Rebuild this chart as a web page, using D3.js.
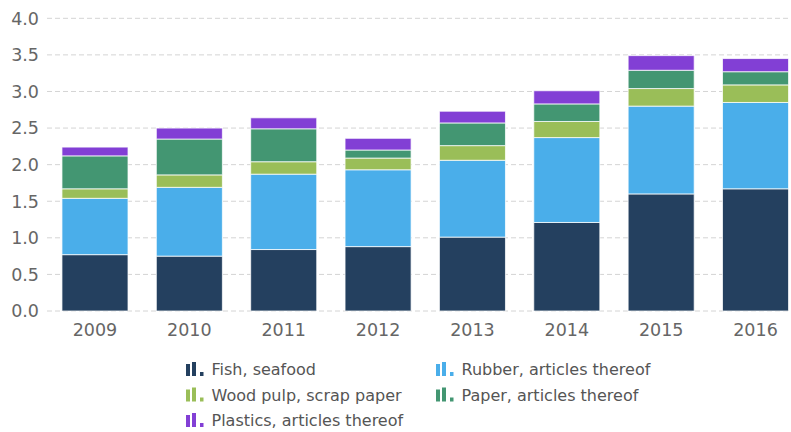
<!DOCTYPE html>
<html lang="en">
<head>
    <meta charset="UTF-8">
    <title>Stacked exports 2009-2016</title>
    <script src="https://d3js.org/d3.v7.min.js"></script>
    <style>
        body { margin: 0; background: #fff; }
        svg { display: block; font-family: "DejaVu Sans", sans-serif; }
        .tick-label { fill: #666; font-size: 17.5px; }
        .legend-label { fill: #555; font-size: 16px; }
    </style>
</head>
<body>
<svg width="791" height="432"></svg>
<script>
    // data
    const years = ["2009", "2010", "2011", "2012", "2013", "2014", "2015", "2016"];
    const fish     = [0.77, 0.75, 0.84, 0.88, 1.01, 1.21, 1.60, 1.67];
    const rubber   = [0.77, 0.94, 1.03, 1.05, 1.05, 1.16, 1.20, 1.18];
    const woodPulp = [0.13, 0.17, 0.17, 0.16, 0.20, 0.22, 0.24, 0.24];
    const paper    = [0.45, 0.49, 0.45, 0.11, 0.31, 0.24, 0.25, 0.18];
    const plastics = [0.12, 0.15, 0.15, 0.16, 0.16, 0.18, 0.20, 0.18];
    const yTicks = [0, 0.5, 1, 1.5, 2, 2.5, 3, 3.5, 4];

    const series = [
        { key: "fish", name: "Fish, seafood", color: "#24405f", values: fish },
        { key: "rubber", name: "Rubber, articles thereof", color: "#4aaeea", values: rubber },
        { key: "wood", name: "Wood pulp, scrap paper", color: "#9abe58", values: woodPulp },
        { key: "paper", name: "Paper, articles thereof", color: "#439672", values: paper },
        { key: "plastics", name: "Plastics, articles thereof", color: "#823fd5", values: plastics }
    ];

    const table = years.map((yr, i) => {
        const row = { year: yr };
        series.forEach(s => row[s.key] = s.values[i]);
        return row;
    });

    const svg = d3.select("svg");
    const gridLeft = 47, gridRight = 791;

    // plot runs off the right edge a little, like the original
    const x = d3.scaleBand()
        .domain(years)
        .range([47.8, 802.7])
        .paddingInner(0.3)
        .paddingOuter(0.15);

    const y = d3.scaleLinear()
        .domain([0, 4])
        .range([311, 18.3]);

    // dashed grid
    svg.append("g")
        .selectAll("line")
        .data(yTicks)
        .join("line")
        .attr("x1", gridLeft)
        .attr("x2", gridRight)
        .attr("y1", d => y(d))
        .attr("y2", d => y(d))
        .attr("stroke", "#d4d4d4")
        .attr("stroke-width", 1)
        .attr("stroke-dasharray", "5,3");

    // y tick labels
    svg.append("g")
        .selectAll("text")
        .data(yTicks)
        .join("text")
        .attr("class", "tick-label")
        .attr("x", 39)
        .attr("y", d => y(d))
        .attr("dy", "0.36em")
        .attr("text-anchor", "end")
        .text(d => d3.format(".1f")(d));

    // x tick labels
    svg.append("g")
        .selectAll("text")
        .data(years)
        .join("text")
        .attr("class", "tick-label")
        .attr("x", d => x(d) + x.bandwidth() / 2)
        .attr("y", 336)
        .attr("text-anchor", "middle")
        .text(d => d);

    // stacked bars
    const stacked = d3.stack().keys(series.map(s => s.key))(table);

    svg.append("g")
        .selectAll("g")
        .data(stacked)
        .join("g")
        .attr("fill", (d, i) => series[i].color)
        .selectAll("rect")
        .data(d => d)
        .join("rect")
        .attr("x", d => x(d.data.year))
        .attr("y", d => y(d[1]))
        .attr("width", x.bandwidth())
        .attr("height", d => y(d[0]) - y(d[1]))
        .attr("stroke", "#fff")
        .attr("stroke-opacity", 0.75)
        .attr("stroke-width", 1);

    // legend
    const legendPos = [
        [186, 369], [436, 369],
        [186, 394.5], [436, 394.5],
        [186, 420]
    ];

    const legend = svg.append("g")
        .selectAll("g")
        .data(series)
        .join("g")
        .attr("transform", (d, i) => `translate(${legendPos[i][0]},${legendPos[i][1]})`);

    // little bar-chart glyph
    const glyph = [[0, 4, 12], [6, 4, 14], [14, 3.5, 4]];
    legend.each(function (s) {
        d3.select(this).selectAll("rect")
            .data(glyph)
            .join("rect")
            .attr("x", g => g[0])
            .attr("y", g => 7 - g[2])
            .attr("width", g => g[1])
            .attr("height", g => g[2])
            .attr("fill", s.color);
    });

    legend.append("text")
        .attr("class", "legend-label")
        .attr("x", 25.5)
        .attr("y", 6)
        .text(d => d.name);
</script>
</body>
</html>
